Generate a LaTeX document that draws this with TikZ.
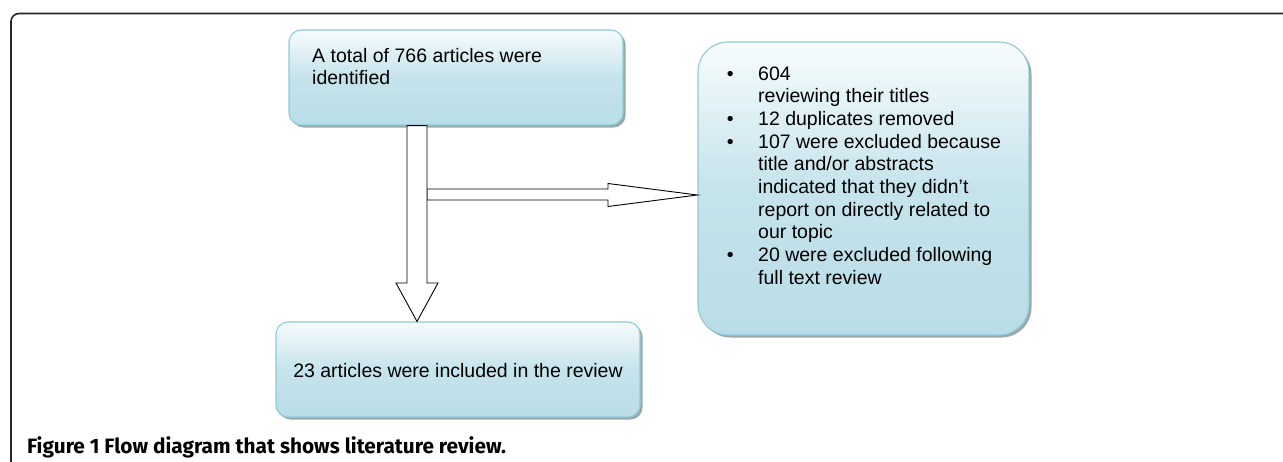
\documentclass[tikz,border=0pt]{standalone}
\usepackage{fontspec}
\setmainfont{Liberation Sans}
\newfontfamily\capfont{Fira Sans}
\usetikzlibrary{shadows}
\definecolor{boxtop}{HTML}{F7FCFD}
\definecolor{boxbot}{HTML}{B9DDE7}
\definecolor{boxline}{HTML}{8ECADA}
\definecolor{shadowc}{HTML}{8A989C}
\definecolor{framec}{HTML}{262626}
\tikzset{
  flowbox/.style={draw=boxline, line width=1.1pt, top color=boxtop, bottom color=boxbot,
    middle color=boxbot!80!boxtop, inner sep=0pt,
    drop shadow={shadow xshift=2.5pt, shadow yshift=-2.5pt, fill=shadowc, opacity=0.85}},
  boxtext/.style={inner sep=0pt, anchor=base west, font=\fontsize{19.5}{22.7}\selectfont},
  blockarrow/.style={draw=black, fill=white, line width=0.9pt, line join=miter},
  framestyle/.style={draw=framec, line width=1.6pt},
}
\newcommand{\bul}{\leavevmode\llap{\textbullet\hspace{24.5pt}}}
\begin{document}
\begin{tikzpicture}[x=1pt,y=-1pt]
\useasboundingbox (0,0) rectangle (1283,461);
% outer frame
\draw[framestyle, rounded corners=8pt] (1290,13.5) -- (11,13.5) -- (11,470);
% boxes
\node[flowbox, rounded corners=12pt, minimum width=334pt, minimum height=95pt] (b1) at (456,77.5) {};
\node[flowbox, rounded corners=30pt, minimum width=331pt, minimum height=293pt] (b2) at (863.5,188.5) {};
\node[flowbox, rounded corners=12pt, minimum width=364pt, minimum height=95pt] (b3) at (458,369.5) {};
% texts
\node[boxtext] (t1) at (312,62) {\parbox[t]{300pt}{\raggedright A total of 766 articles were\\identified}};
\node[boxtext] (t2) at (758,80) {\parbox[t]{260pt}{\raggedright
\bul 604\\
reviewing their titles\\
\bul 12 duplicates removed\\
\bul 107 were excluded because\\
title and/or abstracts\\
indicated that they didn’t\\
report on directly related to\\
our topic\\
\bul 20 were excluded following\\
full text review}};
\node[inner sep=0pt, anchor=base, font=\fontsize{19.5}{22.7}\selectfont] (t3) at (458,377) {23 articles were included in the review};
% block arrows
\coordinate (vx) at (417,0);
\draw[blockarrow] (427,189) -- (608,189) -- (608,183.5) -- (b2.west |- 0,195) -- (608,206.5) -- (608,200) -- (427,200) -- cycle;
\draw[blockarrow] (b1.south -| 407,0) -- (b1.south -| 427,0) -- (427,283) -- (438,283) -- (b3.north -| vx) -- (396,283) -- (407,283) -- cycle;
% caption
\node[inner sep=0pt, anchor=base west, font=\capfont\bfseries\fontsize{20.8}{24}\selectfont] (cap) at (27,453) {Figure 1 Flow diagram that shows literature review.};
\end{tikzpicture}
\end{document}
